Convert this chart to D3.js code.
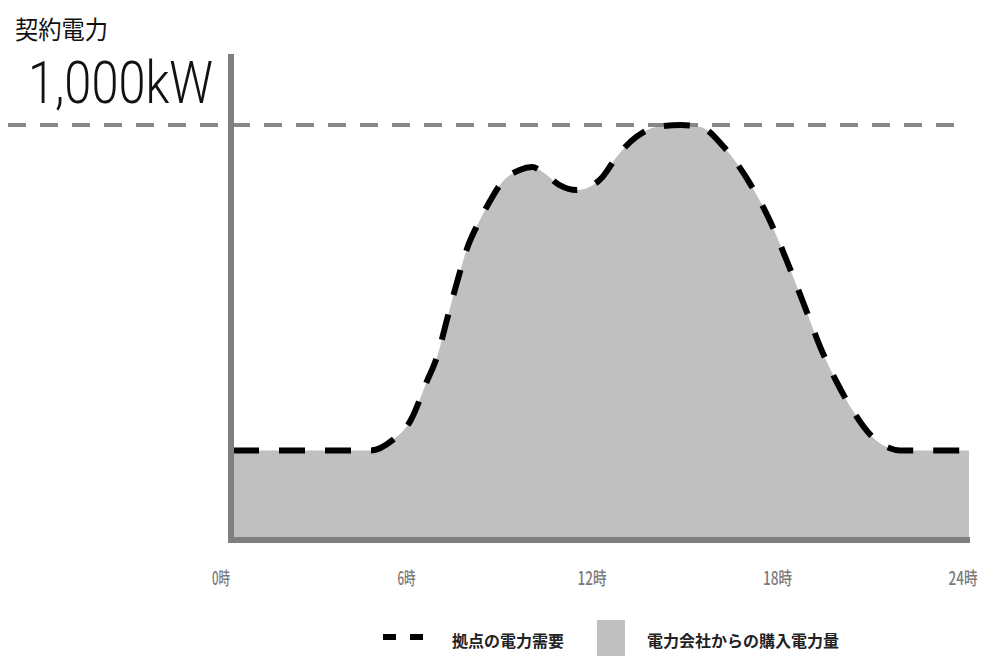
<!DOCTYPE html>
<html>
<head>
<meta charset="utf-8">
<script src="https://cdn.jsdelivr.net/npm/d3@7/dist/d3.min.js"></script>
<style>
  html, body { margin: 0; padding: 0; background: #fff; }
  svg { display: block; }
</style>
</head>
<body>
<svg id="chart" width="991" height="656"></svg>
<script>
// Daily load profile (hour of day, kW)
const hours = [0, 4.5, 5.2, 5.8, 6.3, 6.65, 7.0, 7.3, 7.65, 8.0, 8.4, 8.7, 9.35, 9.75, 10.1, 10.65, 11.2, 11.55, 12.05, 12.5, 13.15, 13.8, 14.6, 15.25, 16.0, 16.85, 17.5, 18.05, 18.6, 19.15, 19.7, 20.2, 20.85, 21.4, 21.75, 24];
const demand = [210, 210, 235, 284, 374, 437, 534, 617, 704, 762, 818, 854, 891, 898, 886, 854, 842, 847, 874, 922, 971, 995, 1000, 995, 947, 859, 769, 672, 568, 461, 374, 308, 243, 216, 210, 210];

const contractKW = 1000;
const hourTicks = [0, 6, 12, 18, 24];
const tickLabels = ["0時", "6時", "12時", "18時", "24時"];
const legendLabels = ["拠点の電力需要", "電力会社からの購入電力量"];

const svg = d3.select("#chart");
const cjk = "'Noto Sans CJK JP', 'Noto Sans', sans-serif";

const x = d3.scaleLinear().domain([0, 24]).range([233, 969]);
const y = d3.scaleLinear().domain([0, 1000]).range([537, 125]);
const xLabel = d3.scaleLinear().domain([0, 24]).range([221, 963]);

const points = hours.map((h, i) => ({ h, v: demand[i] }));

// purchased power (filled area)
svg.append("path")
  .datum(points)
  .attr("fill", "#c0c0c0")
  .attr("d", d3.area().x(d => x(d.h)).y0(y(0)).y1(d => y(d.v)).curve(d3.curveMonotoneX));

// contract limit line
svg.append("line")
  .attr("x1", 8).attr("x2", 968)
  .attr("y1", y(contractKW)).attr("y2", y(contractKW))
  .attr("stroke", "#878787").attr("stroke-width", 4)
  .attr("stroke-dasharray", "18,14");

// site demand (dashed curve)
svg.append("path")
  .datum(points)
  .attr("fill", "none")
  .attr("stroke", "#000")
  .attr("stroke-width", 6)
  .attr("stroke-dasharray", "26,20")
  .attr("d", d3.line().x(d => x(d.h)).y(d => y(d.v)).curve(d3.curveMonotoneX));

// axes
svg.append("line")
  .attr("x1", 231).attr("x2", 231).attr("y1", 54).attr("y2", 543)
  .attr("stroke", "#7f7f7f").attr("stroke-width", 6);
svg.append("line")
  .attr("x1", 228).attr("x2", 970).attr("y1", 540).attr("y2", 540)
  .attr("stroke", "#7f7f7f").attr("stroke-width", 6);

// axis title and contract value
svg.append("text")
  .attr("x", 15).attr("y", 28)
  .attr("dominant-baseline", "central")
  .attr("font-family", cjk).attr("font-size", 25).attr("fill", "#111")
  .attr("textLength", 93).attr("lengthAdjust", "spacingAndGlyphs")
  .text("契約電力");

svg.append("text")
  .attr("x", 28).attr("y", 103)
  .attr("font-family", "Roboto, sans-serif").attr("font-weight", 300)
  .attr("font-size", 60).attr("fill", "#111")
  .attr("textLength", 185).attr("lengthAdjust", "spacingAndGlyphs")
  .text("1,000kW");

// hour labels (condensed)
svg.append("g").selectAll("text")
  .data(hourTicks)
  .join("text")
  .attr("x", d => xLabel(d)).attr("y", 577)
  .attr("text-anchor", "middle").attr("dominant-baseline", "central")
  .attr("font-family", cjk).attr("font-size", 18).attr("font-weight", 500)
  .attr("fill", "#7a7a7a")
  .attr("textLength", (d, i) => tickLabels[i].length === 2 ? 18 : 29)
  .attr("lengthAdjust", "spacingAndGlyphs")
  .text((d, i) => tickLabels[i]);

// legend
svg.append("line")
  .attr("x1", 383).attr("x2", 424).attr("y1", 637).attr("y2", 637)
  .attr("stroke", "#000").attr("stroke-width", 6)
  .attr("stroke-dasharray", "13,14");
svg.append("text")
  .attr("x", 452).attr("y", 640).attr("dominant-baseline", "central")
  .attr("font-family", cjk).attr("font-size", 16).attr("font-weight", 700)
  .attr("fill", "#222")
  .text(legendLabels[0]);
svg.append("rect")
  .attr("x", 597).attr("y", 620).attr("width", 28).attr("height", 40)
  .attr("fill", "#c0c0c0");
svg.append("text")
  .attr("x", 647).attr("y", 640).attr("dominant-baseline", "central")
  .attr("font-family", cjk).attr("font-size", 16).attr("font-weight", 700)
  .attr("fill", "#222")
  .text(legendLabels[1]);
</script>
</body>
</html>
